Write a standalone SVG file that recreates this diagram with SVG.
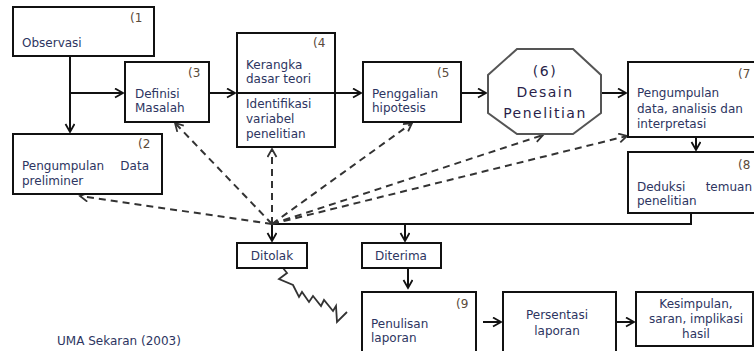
<svg xmlns="http://www.w3.org/2000/svg" width="754" height="351" viewBox="0 0 754 351">
<style>
.box{fill:#fff;stroke:#111;stroke-width:2}
.t{font-family:"DejaVu Sans",Verdana,sans-serif;font-size:12px;fill:#2d3561}
.n{font-family:"DejaVu Sans",Verdana,sans-serif;font-size:12px;fill:#5a4a3a}
.oct{font-family:"DejaVu Sans",Verdana,sans-serif;font-size:14px;fill:#2a1f4a;letter-spacing:1.5px}
.c{text-anchor:middle}
.e{text-anchor:end}
.ln{fill:none;stroke:#111;stroke-width:2}
.ds{fill:none;stroke:#333;stroke-width:2;stroke-dasharray:7 5}
</style>
<defs>
<marker id="a" markerUnits="userSpaceOnUse" markerWidth="12" markerHeight="12" refX="9" refY="5" orient="auto">
<path d="M1,0.5 L9,5 L1,9.5" fill="none" stroke="#111" stroke-width="1.8" stroke-dasharray="none"/>
</marker>
<marker id="d" markerUnits="userSpaceOnUse" markerWidth="12" markerHeight="12" refX="9" refY="5" orient="auto">
<path d="M1,0.5 L9,5 L1,9.5" fill="none" stroke="#333" stroke-width="1.8" stroke-dasharray="none"/>
</marker>
</defs>
<rect width="754" height="351" fill="#fff"/>

<g id="connectors">
<path class="ln" d="M70,56 V132" marker-end="url(#a)"/>
<path class="ln" d="M70,93 H123" marker-end="url(#a)"/>
<path class="ln" d="M209,93 H235" marker-end="url(#a)"/>
<path class="ln" d="M335,93 H361" marker-end="url(#a)"/>
<path class="ln" d="M461,93 H486" marker-end="url(#a)"/>
<path class="ln" d="M602,93 H626" marker-end="url(#a)"/>
<path class="ln" d="M696,137 V150" marker-end="url(#a)"/>
<path class="ln" d="M691,213 V224 H272"/>
<path class="ln" d="M272,224 V241" marker-end="url(#a)"/>
<path class="ln" d="M405,224 V241" marker-end="url(#a)"/>
<path class="ln" d="M408,268 V288" marker-end="url(#a)"/>
<path class="ln" d="M483,322 H501" marker-end="url(#a)"/>
<path class="ln" d="M616,322 H634" marker-end="url(#a)"/>
<path class="ds" d="M272,224 L80,196" marker-end="url(#d)"/>
<path class="ds" d="M272,224 L175,123" marker-end="url(#d)"/>
<path class="ds" d="M272,224 L272,149" marker-end="url(#d)"/>
<path class="ds" d="M272,224 L412,123" marker-end="url(#d)"/>
<path class="ds" d="M272,224 L543,135" marker-end="url(#d)"/>
<path class="ds" d="M272,224 L627,136" marker-end="url(#d)"/>
<path fill="none" stroke="#333" stroke-width="1.8" d="M283,268 L287,273 L279,279 L293,285 L299,297 L302,292 L309,302 L313,296 L321,306 L324,300 L333,311 L336,306 L337,322 L347,312"/>
</g>

<g id="n1">
<rect class="box" x="13" y="7" width="141" height="49"/>
<text class="n" x="130" y="22">(1</text>
<text class="t" x="22" y="47">Observasi</text>
</g>
<g id="n2">
<rect class="box" x="13" y="134" width="149" height="60"/>
<text class="n" x="138" y="148">(2</text>
<text class="t" x="22" y="170">Pengumpulan</text>
<text class="t e" x="149" y="170">Data</text>
<text class="t" x="22" y="185">preliminer</text>
</g>
<g id="n3">
<rect class="box" x="125" y="62" width="84" height="60"/>
<text class="n" x="188" y="77">(3</text>
<text class="t" x="135" y="98">Definisi</text>
<text class="t" x="135" y="112">Masalah</text>
</g>
<g id="n4">
<rect class="box" x="237" y="33" width="98" height="114"/>
<line x1="237" y1="93" x2="335" y2="93" stroke="#111" stroke-width="2"/>
<text class="n" x="313" y="47">(4</text>
<text class="t" x="246" y="69">Kerangka</text>
<text class="t" x="246" y="83">dasar teori</text>
<text class="t" x="246" y="108">Identifikasi</text>
<text class="t" x="246" y="123">variabel</text>
<text class="t" x="246" y="138">penelitian</text>
</g>
<g id="n5">
<rect class="box" x="363" y="62" width="98" height="60"/>
<text class="n" x="437" y="77">(5</text>
<text class="t" x="372" y="98">Penggalian</text>
<text class="t" x="372" y="112">hipotesis</text>
</g>
<g id="n6">
<polygon fill="#fff" stroke="#555" stroke-width="2" points="517,49 573,49 601,75 601,113 573,134 517,134 488,113 488,75"/>
<text class="oct c" x="545" y="76">(6)</text>
<text class="oct c" x="545" y="97">Desain</text>
<text class="oct c" x="545" y="118">Penelitian</text>
</g>
<g id="n7">
<rect class="box" x="628" y="62" width="130" height="75"/>
<text class="n" x="738" y="78">(7</text>
<text class="t" x="637" y="97">Pengumpulan</text>
<text class="t" x="637" y="113">data, analisis dan</text>
<text class="t" x="637" y="128">interpretasi</text>
</g>
<g id="n8">
<rect class="box" x="628" y="152" width="130" height="61"/>
<text class="n" x="738" y="169">(8</text>
<text class="t" x="637" y="191">Deduksi</text>
<text class="t e" x="752" y="191">temuan</text>
<text class="t" x="637" y="205">penelitian</text>
</g>
<g id="ditolak">
<rect class="box" x="237" y="243" width="70" height="25"/>
<text class="t c" x="272" y="260">Ditolak</text>
</g>
<g id="diterima">
<rect class="box" x="362" y="243" width="79" height="25"/>
<text class="t c" x="401" y="260">Diterima</text>
</g>
<g id="n9">
<rect class="box" x="362" y="292" width="114" height="70"/>
<text class="n" x="456" y="308">(9</text>
<text class="t" x="371" y="328">Penulisan</text>
<text class="t" x="371" y="342">laporan</text>
</g>
<g id="persentasi">
<rect class="box" x="503" y="292" width="113" height="70"/>
<text class="t c" x="557" y="319">Persentasi</text>
<text class="t c" x="557" y="335">laporan</text>
</g>
<g id="kesimpulan">
<rect class="box" x="636" y="292" width="117" height="54"/>
<text class="t c" x="696" y="308">Kesimpulan,</text>
<text class="t c" x="696" y="323">saran, implikasi</text>
<text class="t c" x="696" y="338">hasil</text>
</g>
<text class="t" x="57" y="345">UMA Sekaran (2003)</text>
</svg>
